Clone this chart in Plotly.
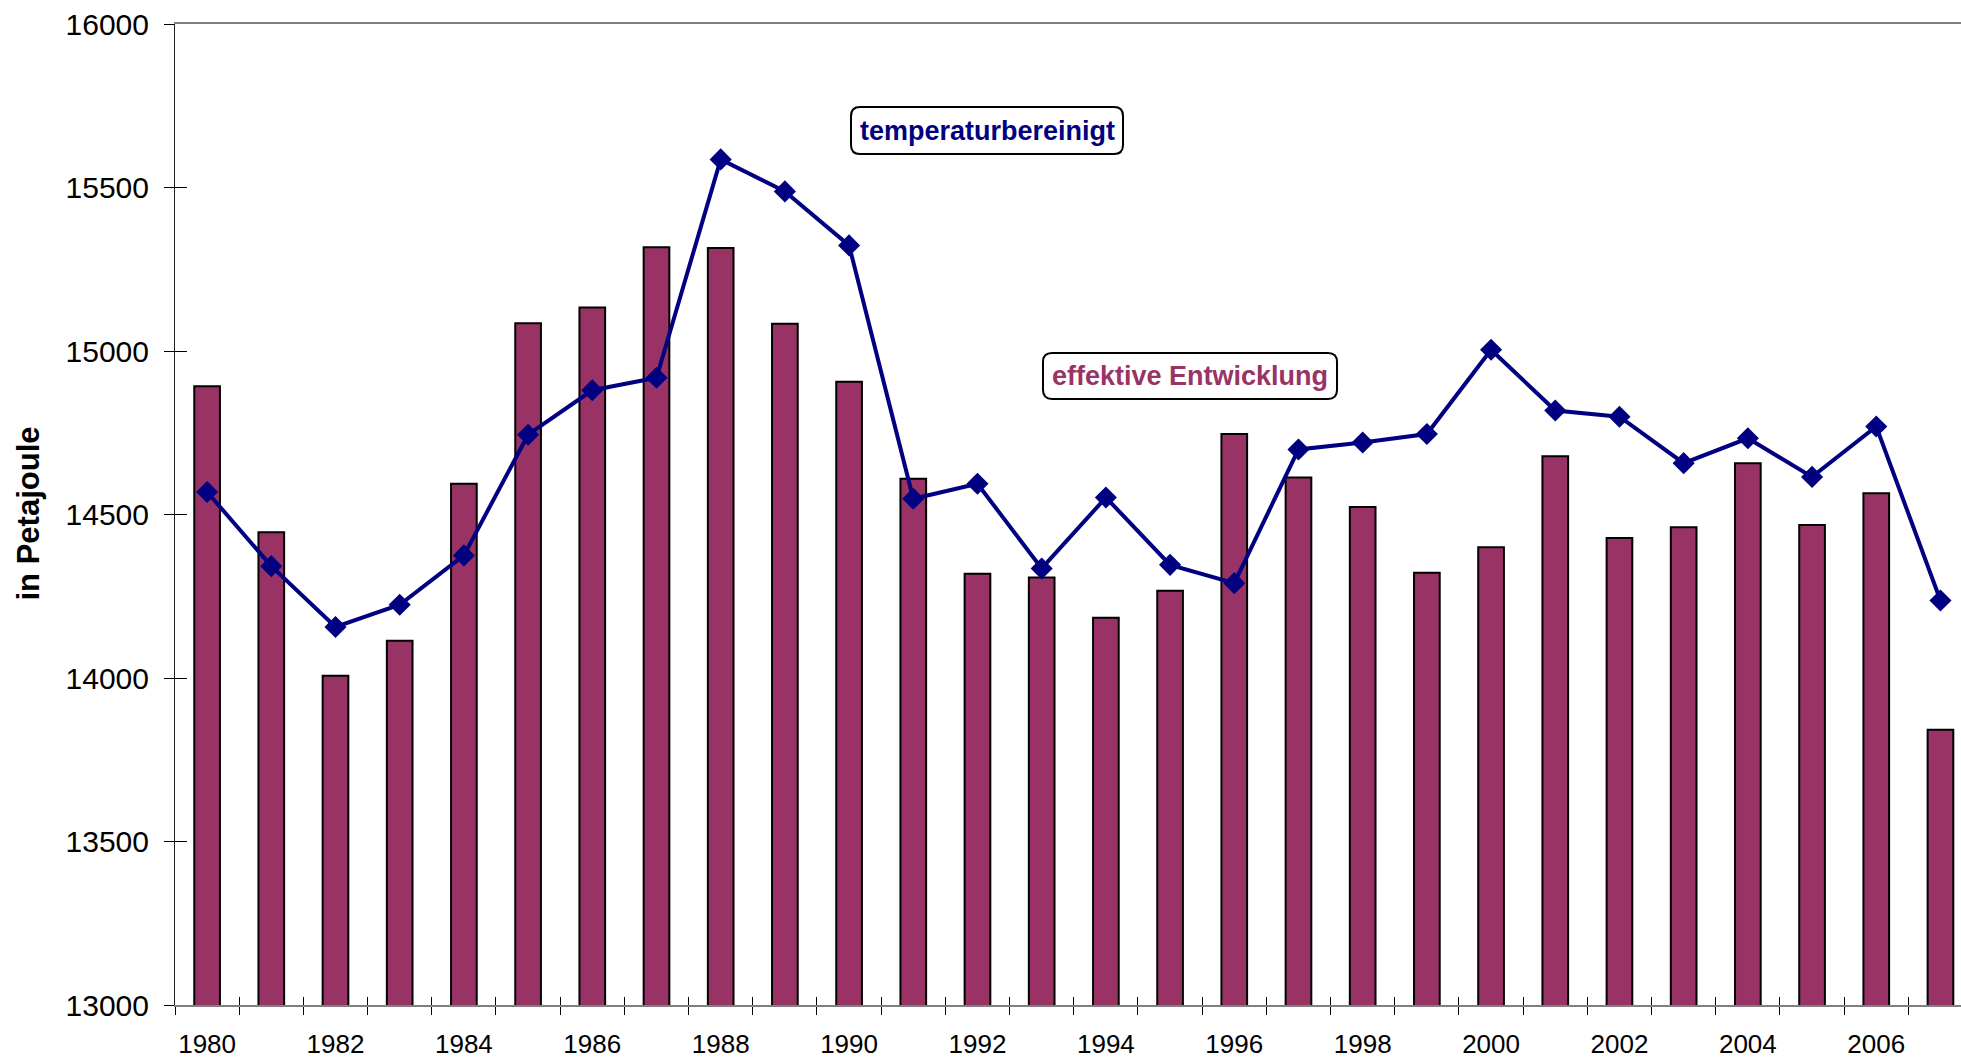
import plotly.graph_objects as go

years = list(range(1980, 2008))
effektiv = [14892, 14446, 14007, 14114, 14594, 15085, 15133, 15317, 15315, 15083,
            14906, 14609, 14319, 14307, 14184, 14267, 14746, 14613, 14523, 14322,
            14400, 14678, 14428, 14461, 14657, 14468, 14565, 13842]
temperaturbereinigt = [14569, 14342, 14156, 14224, 14375, 14744, 14880, 14918, 15586, 15488,
                       15323, 14548, 14594, 14335, 14552, 14346, 14290, 14699, 14720, 14746,
                       15004, 14818, 14799, 14657, 14733, 14615, 14769, 14237]
label_years = list(range(1980, 2008, 2))
y_ticks = [13000, 13500, 14000, 14500, 15000, 15500, 16000]

FONT = "Liberation Sans, Arial, sans-serif"
BAR_COLOR = "#993366"
LINE_COLOR = "#000080"

W, H = 1961, 1059
ML, MR, MT, MB = 175, 0, 24, 54
PW, PH = W - ML - MR, H - MT - MB

x_range = [years[0] - 0.5, years[-1] + 0.32]
boundaries = [y - 0.5 for y in years] + [years[-1] + 0.5]


def px2paper(px, py):
    return (px - ML) / PW, (H - MB - py) / PH


def rounded_box(x0, y0, x1, y1, r=9):
    def P(x, y):
        a, b = px2paper(x, y)
        return f"{a:.5f},{b:.5f}"
    path = (f"M {P(x0 + r, y0)} L {P(x1 - r, y0)} Q {P(x1, y0)} {P(x1, y0 + r)} "
            f"L {P(x1, y1 - r)} Q {P(x1, y1)} {P(x1 - r, y1)} "
            f"L {P(x0 + r, y1)} Q {P(x0, y1)} {P(x0, y1 - r)} "
            f"L {P(x0, y0 + r)} Q {P(x0, y0)} {P(x0 + r, y0)} Z")
    return dict(type="path", xref="paper", yref="paper", path=path,
                line=dict(color="black", width=2), fillcolor="white", layer="above")


fig = go.Figure()
fig.add_trace(go.Bar(
    x=years, y=effektiv, width=0.4, name="effektive Entwicklung",
    marker=dict(color=BAR_COLOR, line=dict(color="black", width=2)),
    showlegend=False,
))
fig.add_trace(go.Scatter(
    x=years, y=temperaturbereinigt, mode="lines+markers", name="temperaturbereinigt",
    line=dict(color=LINE_COLOR, width=4),
    marker=dict(symbol="diamond", size=17, color=LINE_COLOR),
    showlegend=False,
))
# invisible trace so the overlay axes (inside tick halves) are drawn
fig.add_trace(go.Scatter(
    x=[years[0]], y=[effektiv[0]], xaxis="x2", yaxis="y2", mode="markers",
    marker=dict(opacity=0), hoverinfo="skip", showlegend=False,
))

t_x, t_y = px2paper(27.5, 514)
a1x, a1y = px2paper(987, 130.5)
a2x, a2y = px2paper(1190, 376)

fig.update_layout(
    width=W, height=H,
    margin=dict(l=ML, r=MR, t=MT, b=MB, pad=0, autoexpand=False),
    paper_bgcolor="white", plot_bgcolor="white",
    font=dict(family=FONT, color="black"),
    bargap=0.6,
    xaxis=dict(
        range=x_range, tickmode="array", tickvals=label_years,
        ticktext=[str(y) for y in label_years],
        ticks="outside", ticklen=8, tickcolor="rgba(0,0,0,0)",
        ticklabelstandoff=7,
        tickfont=dict(size=26, family=FONT, color="black"),
        minor=dict(tickmode="array", tickvals=boundaries, ticks="outside",
                   ticklen=8, tickcolor="black", tickwidth=1, showgrid=False),
        showline=True, linecolor="#808080", linewidth=2, mirror=True,
        showgrid=False, zeroline=False, automargin=False,
    ),
    xaxis2=dict(
        overlaying="x", matches="x", range=x_range, side="bottom",
        tickmode="array", tickvals=boundaries, ticks="inside", ticklen=8,
        tickcolor="black", tickwidth=1, showticklabels=False,
        showline=False, showgrid=False, zeroline=False, automargin=False,
    ),
    yaxis=dict(
        range=[13000, 16000], tickmode="array", tickvals=y_ticks,
        ticktext=[str(v) for v in y_ticks],
        ticks="outside", ticklen=10, tickcolor="black", tickwidth=1,
        ticklabelstandoff=9,
        tickfont=dict(size=30, family=FONT, color="black"),
        showline=True, linecolor="#222222", linewidth=1,
        showgrid=False, zeroline=False, automargin=False,
    ),
    yaxis2=dict(
        overlaying="y", matches="y", range=[13000, 16000], side="left",
        tickmode="array", tickvals=y_ticks, ticks="inside", ticklen=12,
        tickcolor="black", tickwidth=1, showticklabels=False,
        showline=False, showgrid=False, zeroline=False, automargin=False,
    ),
    shapes=[rounded_box(851, 107, 1123, 154), rounded_box(1043, 353, 1337, 399)],
    annotations=[
        dict(xref="paper", yref="paper", x=t_x, y=t_y,
             text="<b>in Petajoule</b>", showarrow=False, textangle=-90,
             font=dict(size=31, family=FONT, color="black"),
             xanchor="center", yanchor="middle"),
        dict(xref="paper", yref="paper", x=a1x, y=a1y,
             text="<b>temperaturbereinigt</b>", showarrow=False,
             font=dict(size=27, family=FONT, color=LINE_COLOR),
             xanchor="center", yanchor="middle"),
        dict(xref="paper", yref="paper", x=a2x, y=a2y,
             text="<b>effektive Entwicklung</b>", showarrow=False,
             font=dict(size=27, family=FONT, color=BAR_COLOR),
             xanchor="center", yanchor="middle"),
    ],
)

fig.write_html("out.html",
               config={"displayModeBar": False},
               post_script="document.body.style.margin='0';document.body.style.overflow='hidden';")
